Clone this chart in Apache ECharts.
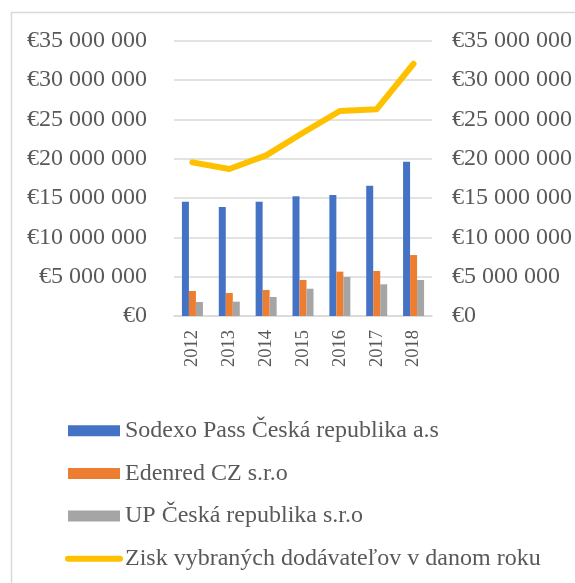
<!DOCTYPE html>
<html>
<head>
<meta charset="utf-8">
<script src="https://cdn.jsdelivr.net/npm/echarts@6/dist/echarts.min.js"></script>
<style>html,body{margin:0;padding:0;background:#fff;}#c{width:575px;height:583px;}</style>
</head>
<body>
<div id="c"></div>
<script>
var categories = ['2012', '2013', '2014', '2015', '2016', '2017', '2018'];
var seriesNames = ['Sodexo Pass Česká republika a.s', 'Edenred CZ s.r.o', 'UP Česká republika s.r.o', 'Zisk vybraných dodávateľov v danom roku'];
var sodexo = [14530000, 13860000, 14530000, 15220000, 15380000, 16570000, 19620000];
var edenred = [3180000, 2920000, 3310000, 4580000, 5640000, 5720000, 7750000];
var up = [1780000, 1820000, 2420000, 3470000, 4960000, 4030000, 4580000];
var zisk = [19530000, 18690000, 20420000, 23300000, 26060000, 26300000, 32070000];
var axisMin = 0, axisMax = 35000000, axisStep = 5000000;

function fmt(v) {
  var s = String(Math.round(v));
  return '€' + s.replace(/\B(?=(\d{3})+(?!\d))/g, ' ');
}
var FONT = 'Liberation Serif';
var TXT = '#595959';
var chart = echarts.init(document.getElementById('c'), null, {renderer: 'canvas'});
chart.setOption({
  animation: false,
  backgroundColor: '#fff',
  textStyle: {fontFamily: FONT},
  graphic: [{
    type: 'rect', left: 9, top: 10, silent: true,
    shape: {x: 9, y: 10, width: 700, height: 700},
    style: {fill: 'none', stroke: '#d9d9d9', lineWidth: 1.5}
  }],
  grid: {left: 174, right: 143, top: 40.7, bottom: 267, containLabel: false},
  legend: {
    orient: 'vertical', left: 65, top: 418.7, itemGap: 18.7, padding: 0,
    itemWidth: 52, itemHeight: 11,
    textStyle: {fontFamily: FONT, fontSize: 24, color: TXT},
    data: [
      {name: seriesNames[0], icon: 'rect'},
      {name: seriesNames[1], icon: 'rect'},
      {name: seriesNames[2], icon: 'rect'},
      {name: seriesNames[3], itemStyle: {opacity: 0}, lineStyle: {width: 6, cap: 'round', color: '#FFC000'}}
    ]
  },
  xAxis: {
    type: 'category', data: categories,
    axisLine: {show: true, lineStyle: {color: '#d9d9d9', width: 1.5}},
    axisTick: {show: false},
    axisLabel: {rotate: 90, margin: 14, fontFamily: FONT, fontSize: 18.5, color: TXT}
  },
  yAxis: [{
    type: 'value', min: axisMin, max: axisMax, interval: axisStep,
    axisLine: {show: false}, axisTick: {show: false},
    splitLine: {lineStyle: {color: '#d9d9d9', width: 1.5}},
    axisLabel: {margin: 27, fontFamily: FONT, fontSize: 24, color: TXT, formatter: fmt}
  }, {
    type: 'value', min: axisMin, max: axisMax, interval: axisStep,
    axisLine: {show: false}, axisTick: {show: false},
    splitLine: {show: false},
    axisLabel: {margin: 20, fontFamily: FONT, fontSize: 24, color: TXT, formatter: fmt}
  }],
  series: [
    {name: seriesNames[0], type: 'bar', data: sodexo, barWidth: 7, barGap: '0%', itemStyle: {color: '#4472C4'}},
    {name: seriesNames[1], type: 'bar', data: edenred, barWidth: 7, barGap: '0%', itemStyle: {color: '#ED7D31'}},
    {name: seriesNames[2], type: 'bar', data: up, barWidth: 7, barGap: '0%', itemStyle: {color: '#A5A5A5'}},
    {name: seriesNames[3], type: 'line', yAxisIndex: 1, data: zisk, symbol: 'none', showSymbol: false,
     lineStyle: {color: '#FFC000', width: 6, cap: 'round', join: 'round'}, itemStyle: {color: '#FFC000'}}
  ]
});
</script>
</body>
</html>
